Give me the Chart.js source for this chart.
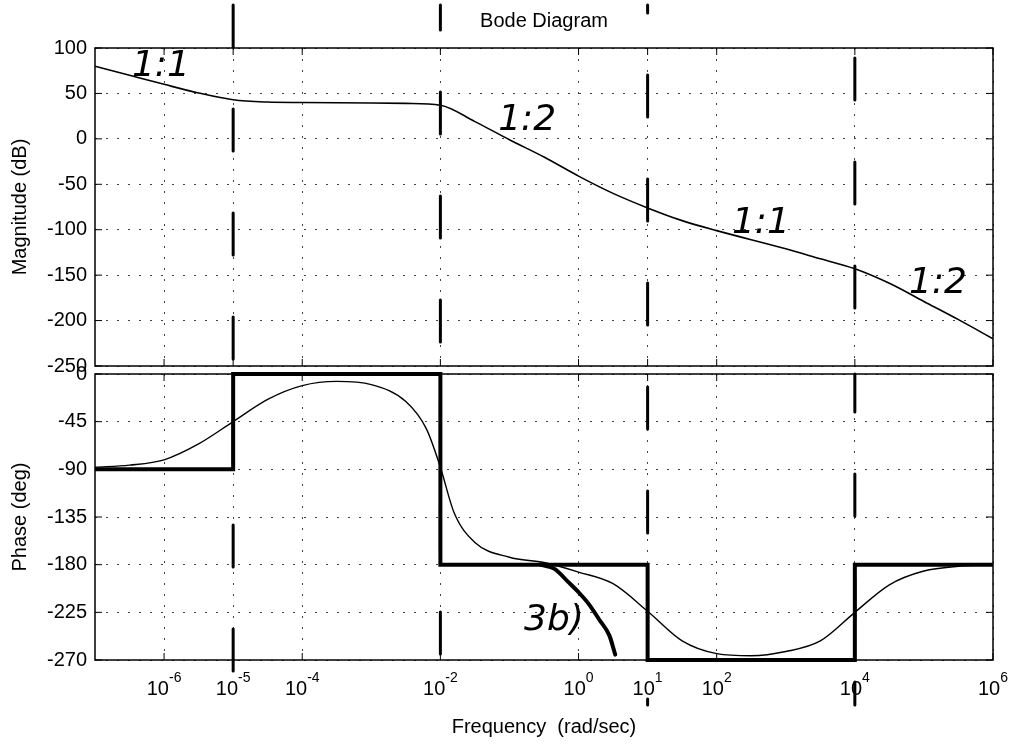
<!DOCTYPE html>
<html>
<head>
<meta charset="utf-8">
<title>Bode Diagram</title>
<script src="https://cdn.jsdelivr.net/npm/chart.js@4.4.0/dist/chart.umd.min.js"></script>
<style>
  body { margin: 0; background: #fff; }
  #wrap { position: relative; width: 1011px; height: 745px; overflow: hidden; }
  canvas { position: absolute; left: 0; }
  #magChart { top: 0; }
  #phaseChart { top: 354px; }
</style>
</head>
<body>
<div id="wrap">
  <canvas id="magChart" width="1011" height="386"></canvas>
  <canvas id="phaseChart" width="1011" height="391"></canvas>
</div>
<script>
// Frequency axis (rad/sec)
const xTicks = [1e-6, 1e-5, 1e-4, 1e-2, 1e0, 1e1, 1e2, 1e4, 1e6];

// Magnitude curve (dB)
const magFreq = [1e-7, 3.16e-7, 1e-6, 3.16e-6, 1e-5, 3.16e-5, 1e-4, 1e-3, 3.16e-3, 1e-2, 3.16e-2, 1e-1, 3.16e-1, 1, 3.16, 10, 31.6, 100, 1000, 3162, 1e4, 31623, 1e5, 316228, 1e6];
const magDb   = [80, 70, 60, 50.5, 43, 40.5, 40, 39.5, 39, 37, 19, -1, -20, -41, -60, -76, -90, -101, -121, -132, -143, -159, -179, -199, -220];

// Phase curve (deg)
const phaseFreq = [1e-7, 3.16e-7, 1e-6, 3.16e-6, 1e-5, 3.16e-5, 1e-4, 3.16e-4, 1e-3, 3.16e-3, 6.3e-3, 1e-2, 1.58e-2, 3.16e-2, 1e-1, 3.16e-1, 1, 3.16, 10, 31.6, 100, 316, 1000, 3162, 1e4, 31623, 1e5, 316228, 1e6];
const phaseDeg  = [-88, -86, -81, -66, -45, -24, -11, -7, -10, -26, -52, -88, -131, -159, -173, -178, -187, -198, -224, -252, -264, -266, -262, -252, -225, -199, -186, -181.5, -180];

// Hand-drawn phase asymptotes (each level holds until the next break)
const asymBreak = [1e-7, 1e-5, 1e-2, 1e1, 1e4, 1e6];
const asymDeg   = [-90, 0, -180, -270, -180, -180];

// Hand-drawn "3b)" sketch
const sketchFreq = [0.28, 0.45, 0.7, 1, 1.4, 2, 2.8, 3.4];
const sketchDeg  = [-180, -184, -196, -206, -217, -232, -247, -265];

// Hand-drawn break frequency markers
const breakFreq = [1e-5, 1e-2, 1e1, 1e4];

// Handwritten notes
const magNoteText = ['1:1', '1:2', '1:1', '1:2'];
const magNoteFreq = [9e-7, 0.18, 437, 1.6e5];
const magNoteDb   = [80, 20, -93, -159];
const phaseNoteText = ['3b)'];
const phaseNoteFreq = [0.44];
const phaseNoteDeg  = [-233];

const FONT = '"Liberation Sans", Arial, Helvetica, sans-serif';
Chart.defaults.font.family = FONT;
Chart.defaults.font.size = 20;
Chart.defaults.color = '#000';

const toPoints = (xs, ys) => xs.map((x, i) => ({ x: x, y: ys[i] }));

// Box round the axes with MATLAB style inward ticks
const frame = {
    id: 'frame',
    beforeDatasetsDraw(chart) {
        const { ctx, chartArea: a, scales: { x, y } } = chart;
        ctx.save();
        ctx.strokeStyle = '#000';
        ctx.lineWidth = 1;
        ctx.beginPath();
        x.ticks.forEach(t => {
            const px = x.getPixelForValue(t.value);
            ctx.moveTo(px, a.top); ctx.lineTo(px, a.top + 7);
            ctx.moveTo(px, a.bottom); ctx.lineTo(px, a.bottom - 7);
        });
        y.ticks.forEach(t => {
            const py = y.getPixelForValue(t.value);
            ctx.moveTo(a.left, py); ctx.lineTo(a.left + 7, py);
            ctx.moveTo(a.right, py); ctx.lineTo(a.right - 7, py);
        });
        ctx.stroke();
        ctx.lineWidth = 1.5;
        ctx.strokeRect(a.left, a.top, a.right - a.left, a.bottom - a.top);
        ctx.restore();
    }
};

// Dashed pen marks at the break frequencies
const markers = {
    id: 'markers',
    afterDatasetsDraw(chart, args, opts) {
        const { ctx, chartArea: a, scales: { x } } = chart;
        const y0 = opts.start;
        const y1 = a.bottom + opts.below;
        ctx.save();
        ctx.strokeStyle = '#000';
        ctx.lineWidth = 3;
        ctx.lineCap = 'round';
        ctx.setLineDash([42, 62]);
        breakFreq.forEach((f, i) => {
            const px = x.getPixelForValue(f);
            ctx.lineDashOffset = opts.canvasTop + y0 - 5 + i * 17;
            ctx.beginPath();
            ctx.moveTo(px, y0);
            ctx.lineTo(px, y1);
            ctx.stroke();
        });
        ctx.restore();
    }
};

// Handwritten annotations placed in data coordinates
const notes = {
    id: 'notes',
    afterDatasetsDraw(chart, args, opts) {
        const { ctx, scales: { x, y } } = chart;
        ctx.save();
        ctx.font = 'oblique 36px "DejaVu Sans"';
        ctx.textAlign = 'center';
        ctx.textBaseline = 'middle';
        ctx.fillStyle = '#000';
        opts.text.forEach((t, i) => {
            ctx.fillText(t, x.getPixelForValue(opts.freq[i]), y.getPixelForValue(opts.value[i]));
        });
        ctx.restore();
    }
};

const plotTitle = {
    id: 'plotTitle',
    afterDraw(chart) {
        const { ctx, chartArea: a } = chart;
        ctx.save();
        ctx.font = '20px ' + FONT;
        ctx.fillStyle = '#000';
        ctx.textAlign = 'center';
        ctx.textBaseline = 'alphabetic';
        ctx.fillText('Bode Diagram', (a.left + a.right) / 2, 27);
        ctx.restore();
    }
};

// 10^n labels with raised exponent
const expLabels = {
    id: 'expLabels',
    afterDraw(chart) {
        const { ctx, chartArea: a, scales: { x } } = chart;
        ctx.save();
        ctx.fillStyle = '#000';
        ctx.textAlign = 'left';
        ctx.textBaseline = 'alphabetic';
        xTicks.forEach(v => {
            const exp = String(Math.round(Math.log10(v)));
            ctx.font = '20px ' + FONT;
            const wb = ctx.measureText('10').width;
            ctx.font = '14px ' + FONT;
            const we = ctx.measureText(exp).width;
            const px = x.getPixelForValue(v) - (wb + we) / 2;
            ctx.font = '20px ' + FONT;
            ctx.fillText('10', px, a.bottom + 35);
            ctx.font = '14px ' + FONT;
            ctx.fillText(exp, px + wb, a.bottom + 22);
        });
        ctx.restore();
    }
};

function xScale(height, title) {
    return {
        type: 'logarithmic',
        min: 1e-7,
        max: 1e6,
        afterBuildTicks: s => { s.ticks = xTicks.map(v => ({ value: v })); },
        afterFit: s => { s.height = height; },
        ticks: { display: false },
        grid: { color: '#444', lineWidth: 1, drawTicks: false },
        border: { display: false, dash: [2, 9] },
        title: title
    };
}

function yScale(min, max, step, label) {
    return {
        min: min,
        max: max,
        afterFit: s => { s.width = 95; },
        ticks: { stepSize: step, padding: 8, color: '#000', font: { size: 20 } },
        grid: { color: '#444', lineWidth: 1, drawTicks: false },
        border: { display: false, dash: [2, 9] },
        title: { display: true, text: label, color: '#000', font: { size: 20 }, padding: { top: 8, bottom: 0 } }
    };
}

const common = {
    responsive: false,
    animation: false,
    events: [],
    elements: { point: { radius: 0 } }
};

new Chart(document.getElementById('magChart'), {
    type: 'line',
    data: {
        datasets: [{
            data: toPoints(magFreq, magDb),
            borderColor: '#000',
            borderWidth: 1.6,
            cubicInterpolationMode: 'monotone',
            fill: false
        }]
    },
    options: Object.assign({}, common, {
        layout: { padding: { top: 48, bottom: 20, left: 0, right: 18 } },
        scales: {
            x: xScale(0, { display: false }),
            y: yScale(-250, 100, 50, 'Magnitude (dB)')
        },
        plugins: {
            legend: { display: false },
            tooltip: { enabled: false },
            markers: { start: 5, below: 0, canvasTop: 0 },
            notes: { text: magNoteText, freq: magNoteFreq, value: magNoteDb }
        }
    }),
    plugins: [frame, markers, notes, plotTitle]
});

new Chart(document.getElementById('phaseChart'), {
    type: 'line',
    data: {
        datasets: [
            {
                data: toPoints(asymBreak, asymDeg),
                borderColor: '#000',
                borderWidth: 4,
                stepped: true,
                clip: false,
                fill: false
            },
            {
                data: toPoints(phaseFreq, phaseDeg),
                borderColor: '#000',
                borderWidth: 1.4,
                cubicInterpolationMode: 'monotone',
                fill: false
            },
            {
                data: toPoints(sketchFreq, sketchDeg),
                borderColor: '#000',
                borderWidth: 4,
                cubicInterpolationMode: 'monotone',
                borderCapStyle: 'round',
                fill: false
            }
        ]
    },
    options: Object.assign({}, common, {
        layout: { padding: { top: 20, bottom: 0, left: 0, right: 18 } },
        scales: {
            x: xScale(85, { display: true, text: 'Frequency  (rad/sec)', color: '#000', font: { size: 20 }, padding: { top: 0, bottom: 6 } }),
            y: yScale(-270, 0, 45, 'Phase (deg)')
        },
        plugins: {
            legend: { display: false },
            tooltip: { enabled: false },
            markers: { start: 20, below: 45, canvasTop: 354 },
            notes: { text: phaseNoteText, freq: phaseNoteFreq, value: phaseNoteDeg }
        }
    }),
    plugins: [frame, markers, notes, expLabels]
});
</script>
</body>
</html>
